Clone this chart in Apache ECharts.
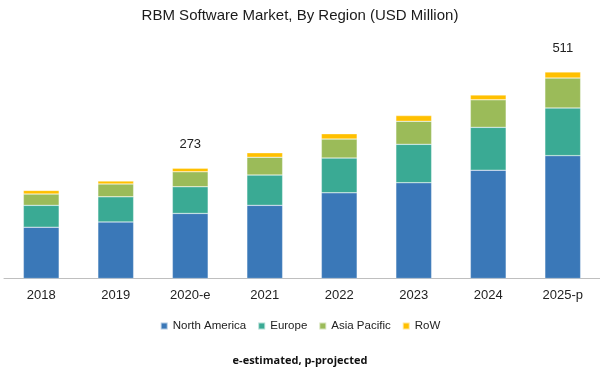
<!DOCTYPE html>
<html>
<head>
<meta charset="utf-8">
<script src="https://cdn.jsdelivr.net/npm/echarts@6/dist/echarts.min.js"></script>
<style>
html,body{margin:0;padding:0;background:#fff;}
#chart{width:600px;height:373px;}
</style>
</head>
<body>
<div id="chart"></div>
<script>
const categories = ['2018', '2019', '2020-e', '2021', '2022', '2023', '2024', '2025-p'];
const northAmerica = [127, 140, 161, 181, 212, 237, 268, 304];
const europe = [54, 62, 66, 75, 86, 95, 106, 118];
const asiaPacific = [28, 32, 37, 44, 47, 57, 68, 74];
const row = [9, 7, 9, 11, 13, 14, 12, 15];
const totalLabels = ['', '', '273', '', '', '', '', '511'];

const colors = ['#3a78b8', '#3aaa94', '#9bbb59', '#ffc000'];
const font = 'Liberation Sans, Arial, sans-serif';

const chart = echarts.init(document.getElementById('chart'));
function bar(name, data, extra) {
  return Object.assign({
    name: name,
    type: 'bar',
    stack: 'total',
    data: data,
    barWidth: '48%',
    itemStyle: { borderColor: 'rgba(255,255,255,0.6)', borderWidth: 0.5 }
  }, extra || {});
}
chart.setOption({
  animation: false,
  color: colors,
  title: {
    text: 'RBM Software Market, By Region (USD Million)',
    left: 'center',
    top: 3,
    textStyle: { fontFamily: font, fontSize: 15, fontWeight: 'normal', color: '#1a1a1a' }
  },
  legend: {
    top: 315,
    left: 'center',
    itemWidth: 7,
    itemHeight: 7,
    itemGap: 11,
    icon: 'rect',
    textStyle: { fontFamily: font, fontSize: 11.5, color: '#222' },
    data: ['North America', 'Europe', 'Asia Pacific', 'RoW']
  },
  graphic: [{
    type: 'text',
    left: 'center',
    top: 355,
    style: { text: 'e-estimated, p-projected', font: 'bold 11px "Open Sans", sans-serif', fill: '#111' }
  }],
  grid: { left: 4, right: 0, top: 36, bottom: 94.5, containLabel: false },
  xAxis: {
    type: 'category',
    data: categories,
    axisTick: { show: false },
    axisLine: { lineStyle: { color: '#bfbfbf', width: 1 } },
    axisLabel: { fontFamily: font, fontSize: 13, color: '#222', margin: 10 }
  },
  yAxis: {
    type: 'value',
    min: 0,
    max: 600,
    show: false,
    splitLine: { show: false }
  },
  series: [
    bar('North America', northAmerica),
    bar('Europe', europe),
    bar('Asia Pacific', asiaPacific),
    bar('RoW', row, {
      label: {
        show: true,
        position: 'top',
        distance: 17,
        fontFamily: font,
        fontSize: 13,
        color: '#222',
        formatter: p => totalLabels[p.dataIndex]
      }
    })
  ]
});
</script>
</body>
</html>
